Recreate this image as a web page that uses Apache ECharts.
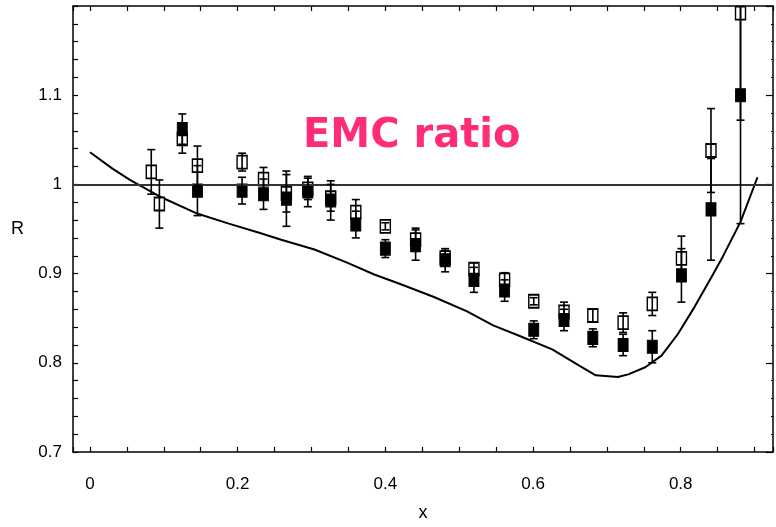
<!DOCTYPE html>
<html>
<head>
<meta charset="utf-8">
<script src="https://cdn.jsdelivr.net/npm/echarts@6/dist/echarts.min.js"></script>
<style>
  html, body { margin: 0; padding: 0; background: #fff; }
  #chart { width: 776px; height: 527px; }
</style>
</head>
<body>
<div id="chart"></div>
<script>
// open squares (x, R, error)
const openX = [0.083, 0.094, 0.125, 0.1455, 0.206, 0.235, 0.266, 0.295, 0.326, 0.36, 0.40, 0.441, 0.481, 0.52, 0.5615, 0.601, 0.642, 0.681, 0.722, 0.7615, 0.801, 0.841, 0.881]
const openR = [1.014, 0.978, 1.051, 1.021, 1.025, 1.006, 0.990, 0.995, 0.985, 0.969, 0.953, 0.938, 0.918, 0.905, 0.893, 0.869, 0.857, 0.853, 0.845, 0.866, 0.917, 1.038, 1.192]
const openErr = [0.025, 0.027, 0.016, 0.022, 0.010, 0.013, 0.021, 0.012, 0.015, 0.014, 0.004, 0.013, 0.008, 0.007, 0.008, 0.004, 0.011, 0.007, 0.011, 0.013, 0.025, 0.047, 0.120]

// filled squares
const fillX = [0.125, 0.1455, 0.206, 0.235, 0.266, 0.295, 0.326, 0.36, 0.40, 0.441, 0.481, 0.52, 0.5615, 0.601, 0.642, 0.681, 0.722, 0.7615, 0.801, 0.841, 0.881]
const fillR = [1.062, 0.993, 0.993, 0.989, 0.984, 0.992, 0.982, 0.955, 0.928, 0.932, 0.915, 0.893, 0.881, 0.837, 0.848, 0.828, 0.820, 0.818, 0.898, 0.972, 1.100]
const fillErr = [0.017, 0.028, 0.015, 0.017, 0.031, 0.017, 0.022, 0.015, 0.010, 0.017, 0.013, 0.014, 0.012, 0.010, 0.012, 0.010, 0.012, 0.018, 0.030, 0.057, 0.144]

// theory curve
const curveX = [0, 0.03, 0.054, 0.098, 0.143, 0.188, 0.228, 0.259, 0.304, 0.349, 0.385, 0.421, 0.465, 0.51, 0.546, 0.582, 0.626, 0.662, 0.685, 0.715, 0.729, 0.752, 0.774, 0.796, 0.819, 0.841, 0.857, 0.881, 0.904]
const curveR = [1.036, 1.018, 1.005, 0.985, 0.968, 0.956, 0.946, 0.938, 0.927, 0.912, 0.899, 0.888, 0.874, 0.858, 0.842, 0.830, 0.815, 0.797, 0.786, 0.784, 0.787, 0.795, 0.808, 0.832, 0.863, 0.895, 0.919, 0.958, 1.008]

const xLabels = [0, 0.2, 0.4, 0.6, 0.8]
const yLabels = [0.7, 0.8, 0.9, 1, 1.1]

const chart = echarts.init(document.getElementById('chart'))

const font = 'Liberation Sans'
const axisCommon = {
  type: 'value',
  axisLine: { show: true, onZero: false, lineStyle: { color: '#000', width: 1.5 } },
  axisTick: { show: true, inside: true, length: 5, lineStyle: { color: '#000', width: 1.2 } },
  splitLine: { show: false }
}

function xFmt(v) {
  const hit = xLabels.find(l => Math.abs(l - v) < 1e-6)
  return hit === undefined ? '' : String(hit)
}
function yFmt(v) {
  const hit = yLabels.find(l => Math.abs(l - v) < 1e-6)
  return hit === undefined ? '' : String(hit)
}

const xCommon = Object.assign({}, axisCommon, {
  min: -0.023, max: 0.925, minInterval: 0.05, maxInterval: 0.05, splitNumber: 19
})
const yCommon = Object.assign({}, axisCommon, {
  min: 0.7, max: 1.2, interval: 0.1
})

// error bars: [x, lo, hi]
function errData(xs, rs, es) {
  return xs.map((x, i) => [x, rs[i] - es[i], rs[i] + es[i]])
}

function renderErr(params, api) {
  const x = api.value(0)
  const lo = api.coord([x, api.value(1)])
  const hi = api.coord([x, api.value(2)])
  const cap = 4
  const style = { stroke: '#000', lineWidth: 1.6 }
  return {
    type: 'group',
    children: [
      { type: 'line', shape: { x1: lo[0], y1: lo[1], x2: hi[0], y2: hi[1] }, style: style },
      { type: 'line', shape: { x1: lo[0] - cap, y1: lo[1], x2: lo[0] + cap, y2: lo[1] }, style: style },
      { type: 'line', shape: { x1: hi[0] - cap, y1: hi[1], x2: hi[0] + cap, y2: hi[1] }, style: style }
    ]
  }
}

const option = {
  animation: false,
  backgroundColor: '#fff',
  grid: { left: 73, right: -3, top: 6, bottom: 73 },
  xAxis: [
    Object.assign({}, xCommon, {
      position: 'bottom',
      name: 'x',
      nameLocation: 'middle',
      nameGap: 52,
      nameTextStyle: { fontFamily: font, fontSize: 18, color: '#000' },
      axisLabel: { formatter: xFmt, margin: 24, fontFamily: font, fontSize: 17, color: '#000' }
    }),
    Object.assign({}, xCommon, {
      position: 'top',
      axisLabel: { show: false }
    })
  ],
  yAxis: [
    Object.assign({}, yCommon, {
      position: 'left',
      name: 'R',
      nameLocation: 'middle',
      nameGap: 49,
      nameRotate: 0,
      nameTextStyle: { fontFamily: font, fontSize: 18, color: '#000' },
      minorTick: { show: true, splitNumber: 5, length: 5, lineStyle: { color: '#000', width: 1.2 } },
      axisLabel: { formatter: yFmt, margin: 11, fontFamily: font, fontSize: 17, color: '#000' }
    }),
    Object.assign({}, yCommon, {
      position: 'right',
      axisTick: { show: true, inside: true, length: 7, lineStyle: { color: '#000', width: 1.2 } },
      minorTick: { show: true, splitNumber: 5, length: 2, lineStyle: { color: '#000', width: 1.2 } },
      axisLabel: { show: false }
    })
  ],
  graphic: [{
    type: 'text',
    left: 303,
    top: 117,
    style: {
      text: 'EMC ratio',
      fill: '#ff2d78',
      font: 'bold 40px "DejaVu Sans"'
    }
  }],
  series: [
    {
      name: 'theory',
      type: 'line',
      data: curveX.map((x, i) => [x, curveR[i]]),
      symbol: 'none',
      lineStyle: { color: '#000', width: 2 },
      z: 2,
      markLine: {
        silent: true,
        symbol: 'none',
        label: { show: false },
        lineStyle: { color: '#333', width: 2, type: 'solid' },
        data: [{ yAxis: 1 }]
      }
    },
    {
      name: 'open',
      type: 'scatter',
      data: openX.map((x, i) => [x, openR[i]]),
      symbol: 'rect',
      symbolSize: [10, 13],
      itemStyle: { color: '#fff', borderColor: '#000', borderWidth: 1.6, opacity: 1 },
      z: 3
    },
    {
      name: 'filled',
      type: 'scatter',
      data: fillX.map((x, i) => [x, fillR[i]]),
      symbol: 'rect',
      symbolSize: [10, 13],
      itemStyle: { color: '#000', borderColor: '#000', borderWidth: 1, opacity: 1 },
      z: 4
    },
    {
      name: 'openErr',
      type: 'custom',
      clip: true,
      data: errData(openX, openR, openErr),
      renderItem: renderErr,
      z: 5
    },
    {
      name: 'fillErr',
      type: 'custom',
      clip: true,
      data: errData(fillX, fillR, fillErr),
      renderItem: renderErr,
      z: 5
    }
  ]
}

chart.setOption(option)
</script>
</body>
</html>
